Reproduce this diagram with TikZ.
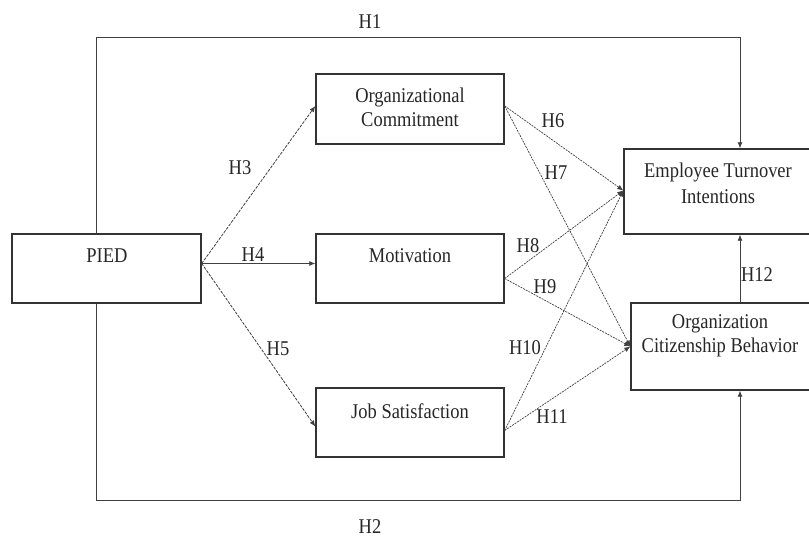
\documentclass[tikz,border=0pt]{standalone}
\usepackage{fontspec}
\setmainfont{Liberation Serif}[FakeStretch=0.88]
\usetikzlibrary{arrows.meta,calc}
\begin{document}
\begin{tikzpicture}[x=1pt,y=-1pt,
  box/.style={draw=black!80, line width=1.4pt, rectangle, inner sep=0pt},
  txt/.style={font=\fontsize{21}{24}\selectfont, text=black!85, align=center, inner sep=0pt},
  conn/.style={draw=black!75, line width=0.8pt, -{Latex[length=6pt,width=5pt]}},
  dashconn/.style={conn, dash pattern=on 3pt off 1.2pt},
  dotconn/.style={conn, line width=0.7pt, dash pattern=on 2pt off 1pt}]
\useasboundingbox (0,0) rectangle (809,541);
% boxes
\node[box, minimum width=189pt, minimum height=69pt] (pied) at (106.5,268.5) {};
\node[box, minimum width=188pt, minimum height=70pt] (oc) at (410,109) {};
\node[box, minimum width=188pt, minimum height=69pt] (mot) at (410,268.5) {};
\node[box, minimum width=188pt, minimum height=69pt] (js) at (410,422.5) {};
\node[box, minimum width=188pt, minimum height=85pt] (eti) at (718,191.5) {};
\node[box, minimum width=181pt, minimum height=87pt] (ocb) at (721.5,346.5) {};
% box texts
\node[txt] (tpied) at (107,256) {PIED};
\node[txt] (toc) at (410,107) {Organizational\\Commitment};
\node[txt] (tmot) at (410,256) {Motivation};
\node[txt] (tjs) at (410,411) {Job Satisfaction};
\node[txt, font=\fontsize{21}{26}\selectfont] (teti) at (718,183) {Employee Turnover\\Intentions};
\node[txt] (tocb) at (720,336) {Organization\\Citizenship Behavior};
% frame coordinates
\coordinate (tl) at (96,37);
\coordinate (tr) at (740,37);
\coordinate (bl) at (96,500);
\coordinate (br) at (740,500);
\coordinate (ps) at ($(pied.east)+(0,-5)$);
\coordinate (ms) at ($(mot.east)+(0,10)$);
\coordinate (js0) at ($(js.east)+(0,8)$);
\coordinate (ocs) at ($(oc.east)+(0,-3)$);
\coordinate (etie) at ($(eti.west)+(0,-1)$);
% H1, H2
\draw[conn] (pied.north -| tl) -- (tl) -- (tr) -- (eti.north -| tr);
\draw[conn] (pied.south -| bl) -- (bl) -- (br) -- (ocb.south -| br);
\draw[conn] (ocb.north -| tr) -- (eti.south -| tr);
% from PIED
\draw[dashconn] (ps) -- ($(oc.west)+(0,-3)$);
\draw[conn] (ps) -- (mot.west |- ps);
\draw[dashconn] (ps) -- ($(js.west)+(0,4)$);
% to outcomes
\draw[dotconn] (ocs) -- (etie);
\draw[dotconn] (ocs) -- (ocb.west);
\draw[dotconn] (ms) -- (etie);
\draw[dotconn] (ms) -- (ocb.west);
\draw[dotconn] (js0) -- (etie);
\draw[dotconn] (js0) -- (ocb.west);
% labels
\node[txt] (h1) at (370,22) {H1};
\node[txt] (h2) at (370,527) {H2};
\node[txt] (h3) at (240,168) {H3};
\node[txt] (h4) at (253,255) {H4};
\node[txt] (h5) at (278,349) {H5};
\node[txt] (h6) at (553,121) {H6};
\node[txt] (h7) at (556,173) {H7};
\node[txt] (h8) at (528,246) {H8};
\node[txt] (h9) at (545,287) {H9};
\node[txt] (h10) at (525,348) {H10};
\node[txt] (h11) at (552,417) {H11};
\node[txt] (h12) at (757,275) {H12};
\end{tikzpicture}
\end{document}
